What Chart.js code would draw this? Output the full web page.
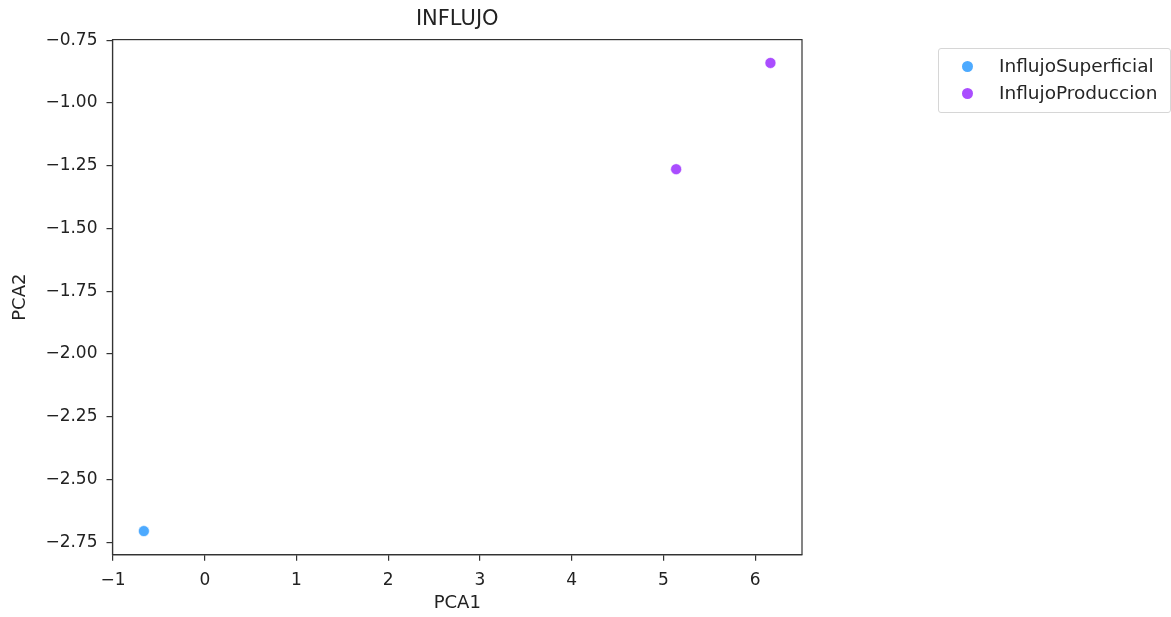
<!DOCTYPE html>
<html><head><meta charset="utf-8">
<script src="https://cdn.jsdelivr.net/npm/chart.js@4.4.1/dist/chart.umd.min.js"></script>
<style>
html,body{margin:0;padding:0;background:#fff;}
#wrap{position:relative;width:1171px;height:617px;}
#legend{position:absolute;left:938px;top:48px;width:233px;height:65px;border:1px solid #d6d6d6;border-radius:3px;box-sizing:border-box;font-family:"DejaVu Sans";font-size:18.5px;color:#262626;}
.row{position:absolute;left:0;height:20px;line-height:20px;white-space:nowrap;}
.dot{position:absolute;width:11px;height:11px;border-radius:50%;left:23px;top:4.5px;}
.lbl{position:absolute;left:60px;top:0;}
</style></head>
<body><div id="wrap"><canvas id="c" width="1171" height="617"></canvas><div id="legend"></div></div>
<script>
const seriesNames = ["InflujoSuperficial", "InflujoProduccion"];
const seriesColors = ["rgb(77,170,255)", "rgb(170,77,255)"];
const superficialX = [-0.664];
const superficialY = [-2.705];
const produccionX = [5.138, 6.166];
const produccionY = [-1.264, -0.841];
const xTicks = [-1, 0, 1, 2, 3, 4, 5, 6];
const xTickLabels = ["\u22121", "0", "1", "2", "3", "4", "5", "6"];
const yTicks = [-2.75, -2.5, -2.25, -2.0, -1.75, -1.5, -1.25, -1.0, -0.75];
const yTickLabels = ["\u22122.75", "\u22122.50", "\u22122.25", "\u22122.00", "\u22121.75", "\u22121.50", "\u22121.25", "\u22121.00", "\u22120.75"];
const chartTitle = "INFLUJO";
const xTitle = "PCA1";
const yTitle = "PCA2";

const toPts = (xs, ys) => xs.map((x, i) => ({x: x, y: ys[i]}));
const FONT = "DejaVu Sans";
const AX = "#333";

const framePlugin = {
  id: 'frame',
  afterDraw(chart) {
    const a = chart.chartArea, ctx = chart.ctx;
    ctx.save();
    ctx.strokeStyle = AX;
    ctx.lineWidth = 1.2;
    ctx.strokeRect(a.left, a.top, a.right - a.left, a.bottom - a.top);
    ctx.fillStyle = '#222';
    ctx.font = '21px "DejaVu Sans"';
    ctx.textAlign = 'center';
    ctx.textBaseline = 'middle';
    ctx.fillText(chartTitle, (a.left + a.right) / 2, 20);
    ctx.restore();
  }
};

new Chart(document.getElementById('c'), {
  type: 'scatter',
  data: {
    datasets: [
      {label: seriesNames[0], data: toPts(superficialX, superficialY), backgroundColor: seriesColors[0], borderColor: '#fff', borderWidth: 0.6, pointRadius: 5.5},
      {label: seriesNames[1], data: toPts(produccionX, produccionY), backgroundColor: seriesColors[1], borderColor: '#fff', borderWidth: 0.6, pointRadius: 5.5}
    ]
  },
  options: {
    responsive: false,
    animation: false,
    layout: {padding: {left: 0, right: 369, top: 39.6, bottom: 0}},
    plugins: {
      legend: {display: false},
      tooltip: {enabled: false},
      title: {display: false}
    },
    scales: {
      x: {
        type: 'linear', min: -1.006, max: 6.51,
        afterBuildTicks: s => { s.ticks = xTicks.map(v => ({value: v})); },
        afterFit: s => { s.height = 62.3; },
        ticks: {callback: (v, i) => xTickLabels[i], color: '#222', font: {family: FONT, size: 17}, padding: 9.5, maxRotation: 0},
        grid: {drawOnChartArea: false, drawTicks: true, tickLength: 6, color: AX, lineWidth: 1.2},
        border: {display: true, color: AX, width: 1.2},
        title: {display: true, text: xTitle, color: '#222', font: {family: FONT, size: 18}, padding: {top: 3, bottom: 2.5}}
      },
      y: {
        type: 'linear', min: -2.799, max: -0.748,
        afterBuildTicks: s => { s.ticks = yTicks.map(v => ({value: v})); },
        afterFit: s => { s.width = 112.5; },
        ticks: {callback: (v, i) => yTickLabels[i], color: '#222', font: {family: FONT, size: 17}, padding: 9},
        grid: {drawOnChartArea: false, drawTicks: true, tickLength: 6, color: AX, lineWidth: 1.2},
        border: {display: true, color: AX, width: 1.2},
        title: {display: true, text: yTitle, color: '#222', font: {family: FONT, size: 18}, padding: {top: 10, bottom: 3}}
      }
    }
  },
  plugins: [framePlugin]
});

const leg = document.getElementById('legend');
seriesNames.forEach((n, i) => {
  const r = document.createElement('div');
  r.className = 'row';
  r.style.top = (7 + i * 27) + 'px';
  r.innerHTML = '<span class="dot" style="background:' + seriesColors[i] + '"></span><span class="lbl"></span>';
  r.querySelector('.lbl').textContent = n;
  leg.appendChild(r);
});
</script>
</body></html>
